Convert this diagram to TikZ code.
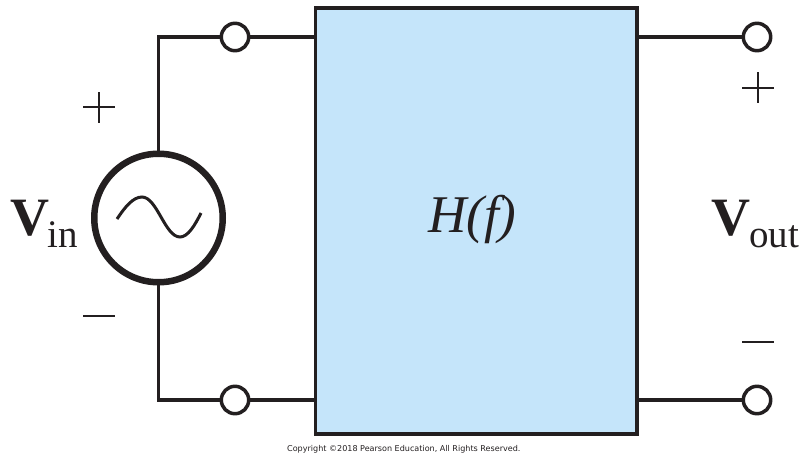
\documentclass[tikz,border=0pt]{standalone}
\usepackage{fontspec}
\setmainfont{Liberation Serif}
\newfontfamily\copyfont{DejaVu Sans}
\definecolor{ink}{HTML}{231F20}
\definecolor{boxblue}{HTML}{C5E5FA}
\tikzset{
  wire/.style={draw=ink,line width=3.4pt,line join=miter},
  terminal/.style={circle,draw=ink,fill=white,line width=3.5pt,minimum size=27.4pt,inner sep=0pt,outer sep=0pt},
  source/.style={circle,draw=ink,fill=white,line width=6.5pt,minimum size=128.5pt,inner sep=0pt,outer sep=0pt},
  block/.style={draw=ink,fill=boxblue,line width=3.8pt,minimum width=321.5pt,minimum height=426pt,inner sep=0pt,outer sep=0pt},
  sign/.style={draw=ink,line width=2pt},
  lbl/.style={inner sep=0pt,anchor=base west,text=ink}
}
\begin{document}
\begin{tikzpicture}[x=1pt,y=-1pt]
\useasboundingbox (0,0) rectangle (803,455);
\node[block] (H) at (476.25,221) {};
\node[source] (S) at (158.5,218) {};
\node[terminal] (T1) at (235,37) {};
\node[terminal] (T2) at (235,400) {};
\node[terminal] (T3) at (757,37) {};
\node[terminal] (T4) at (757,400) {};
\coordinate (C1) at (158.5,37);
\coordinate (C2) at (158.5,400);
\coordinate (H1) at (H.west |- T1);
\coordinate (H2) at (H.west |- T2);
\coordinate (H3) at (H.east |- T3);
\coordinate (H4) at (H.east |- T4);
\draw[wire] (S.north) -- (C1) -- (T1.west);
\draw[wire] (T1.east) -- (H1);
\draw[wire] (S.south) -- (C2) -- (T2.west);
\draw[wire] (T2.east) -- (H2);
\draw[wire] (H3) -- (T3.west);
\draw[wire] (H4) -- (T4.west);
% sine
\draw[draw=ink,line width=3pt] (117,219) .. controls (125,207) and (133,197) .. (142,197)
  .. controls (157,197) and (165,237) .. (180,237)
  .. controls (188,237) and (195,225) .. (201,213);
% signs
\draw[sign] (83,107) -- (115,107) (99,92) -- (99,123);
\draw[sign] (83,316) -- (115,316);
\draw[sign] (742,88) -- (774,88) (758,72) -- (758,103);
\draw[sign] (742,342) -- (774,342);
% labels
\node[lbl] (Vin) at (10,235) {\fontsize{54}{54}\selectfont\bfseries V};
\node[lbl] (Vins) at (47,247) {\fontsize{39}{39}\selectfont in};
\node[lbl] (Vout) at (711,235) {\fontsize{54}{54}\selectfont\bfseries V};
\node[lbl] (Vouts) at (749,247) {\fontsize{39}{39}\selectfont out};
\node[lbl] (HF) at (428,232) {\fontsize{53}{53}\selectfont\itshape H(f)};
\node[lbl] (CR) at (287,451) {\copyfont\fontsize{8.05}{9}\selectfont Copyright ©2018 Pearson Education, All Rights Reserved.};
\end{tikzpicture}
\end{document}
